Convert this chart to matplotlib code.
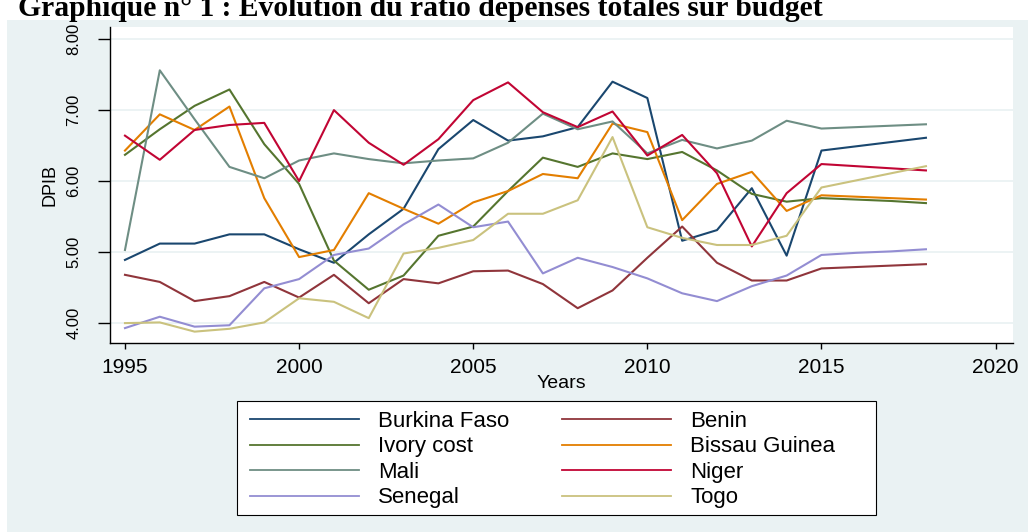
import matplotlib
matplotlib.use('Agg')
import matplotlib.pyplot as plt
from matplotlib.patches import Rectangle

# ---------------------------------------------------------------------------
# Data
# ---------------------------------------------------------------------------
years = list(range(1995, 2019))

burkina = [4.89, 5.12, 5.12, 5.25, 5.25, 5.04, 4.85, 5.25, 5.61, 6.45, 6.86, 6.57,
           6.63, 6.76, 7.40, 7.17, 5.16, 5.31, 5.90, 4.95, 6.43, 6.49, 6.55, 6.61]
benin = [4.68, 4.58, 4.31, 4.38, 4.58, 4.36, 4.68, 4.28, 4.62, 4.56, 4.73, 4.74,
         4.55, 4.21, 4.46, 4.92, 5.36, 4.85, 4.60, 4.60, 4.77, 4.79, 4.81, 4.83]
ivory = [6.37, 6.73, 7.06, 7.29, 6.52, 5.96, 4.88, 4.47, 4.67, 5.23, 5.36, 5.86,
         6.33, 6.20, 6.39, 6.31, 6.41, 6.15, 5.82, 5.71, 5.76, 5.74, 5.72, 5.69]
bissau = [6.43, 6.94, 6.72, 7.05, 5.76, 4.93, 5.03, 5.83, 5.61, 5.40, 5.70, 5.86,
          6.10, 6.04, 6.81, 6.69, 5.45, 5.96, 6.13, 5.58, 5.80, 5.78, 5.76, 5.74]
mali = [5.03, 7.56, 6.87, 6.20, 6.04, 6.29, 6.39, 6.31, 6.25, 6.29, 6.32, 6.54,
        6.95, 6.73, 6.84, 6.39, 6.58, 6.46, 6.57, 6.85, 6.74, 6.76, 6.78, 6.80]
niger = [6.64, 6.30, 6.72, 6.79, 6.82, 6.00, 7.00, 6.54, 6.23, 6.59, 7.14, 7.39,
         6.97, 6.76, 6.98, 6.36, 6.65, 6.11, 5.08, 5.83, 6.24, 6.21, 6.18, 6.15]
senegal = [3.93, 4.09, 3.95, 3.97, 4.49, 4.62, 4.96, 5.05, 5.39, 5.67, 5.35, 5.43,
           4.70, 4.92, 4.79, 4.63, 4.42, 4.31, 4.52, 4.67, 4.96, 4.99, 5.01, 5.04]
togo = [4.00, 4.01, 3.88, 3.92, 4.01, 4.35, 4.30, 4.07, 4.98, 5.06, 5.17, 5.54,
        5.54, 5.73, 6.62, 5.35, 5.20, 5.10, 5.10, 5.23, 5.91, 6.01, 6.11, 6.21]

series = [
    ('Burkina Faso', burkina, '#1a476f'),
    ('Benin', benin, '#90353b'),
    ('Ivory cost', ivory, '#55752f'),
    ('Bissau Guinea', bissau, '#e37e00'),
    ('Mali', mali, '#6e8e84'),
    ('Niger', niger, '#c10534'),
    ('Senegal', senegal, '#938dd2'),
    ('Togo', togo, '#cac27e'),
]

y_ticks = [4, 5, 6, 7, 8]
x_ticks = [1995, 2000, 2005, 2010, 2015, 2020]

W, H = 1028, 532
BG = '#eaf2f3'

plt.rcParams['font.family'] = ['Liberation Sans', 'DejaVu Sans']

fig = plt.figure(figsize=(W / 100, H / 100), dpi=100, facecolor='white')

# Stata-style outer background, under the white title strip
fig.patches.append(Rectangle((7 / W, 0), 1 - 7 / W, 1 - 20 / H,
                             transform=fig.transFigure, facecolor=BG,
                             edgecolor='none', zorder=-10))

# Title, cut off at the top as in the source document
fig.text(18 / W, 1 - 16 / H,
         'Graphique n° 1 : Evolution du ratio dépenses totales sur budget',
         family=['Liberation Serif', 'DejaVu Serif'], fontweight='bold',
         fontsize=21.3, va='baseline', ha='left')

ax = fig.add_axes([110 / W, 1 - 343 / H, 903 / W, 316 / H])
ax.set_facecolor('white')

lines = []
for name, vals, col in series:
    ln, = ax.plot(years, vals, color=col, lw=1.5, label=name)
    lines.append(ln)

ax.set_xlim(1994.57, 2020.5)
ax.set_ylim(3.72, 8.17)
ax.set_yticks(y_ticks)
ax.set_yticklabels([f'{v:.2f}' for v in y_ticks], rotation=90, va='center',
                   fontsize=12)
ax.set_xticks(x_ticks)
ax.set_xticklabels([str(v) for v in x_ticks], fontsize=15)
ax.grid(axis='y', color=BG, lw=1.3)
ax.set_axisbelow(True)

for s in ['top', 'right']:
    ax.spines[s].set_visible(False)
for s in ['left', 'bottom']:
    ax.spines[s].set_linewidth(1.0)
ax.tick_params(axis='y', direction='out', length=8.5, width=1.0, pad=12)
ax.tick_params(axis='x', direction='out', length=4.5, width=1.0, pad=6)

ax.set_ylabel('DPIB', fontsize=13, labelpad=6)
ax.set_xlabel('Years', fontsize=14, labelpad=-1)

# legend filled row by row (two columns), as Stata does; frame drawn by hand
order = [0, 2, 4, 6, 1, 3, 5, 7]
leg = fig.legend([lines[i] for i in order], [series[i][0] for i in order],
                 loc='upper left', ncol=2,
                 bbox_to_anchor=(250 / W, 1 - 411 / H),
                 borderaxespad=0, borderpad=0, fontsize=16,
                 handlelength=4.9, handletextpad=0.85, labelspacing=0.2,
                 columnspacing=2.4, frameon=False)
for ln in leg.get_lines():
    ln.set_linewidth(1.3)

fig.patches.append(Rectangle((237 / W, 1 - 515 / H), 639 / W, 114 / H,
                             transform=fig.transFigure, facecolor='white',
                             edgecolor='black', lw=0.8, zorder=-5))

fig.savefig('out.png', dpi=100, facecolor=fig.get_facecolor())
